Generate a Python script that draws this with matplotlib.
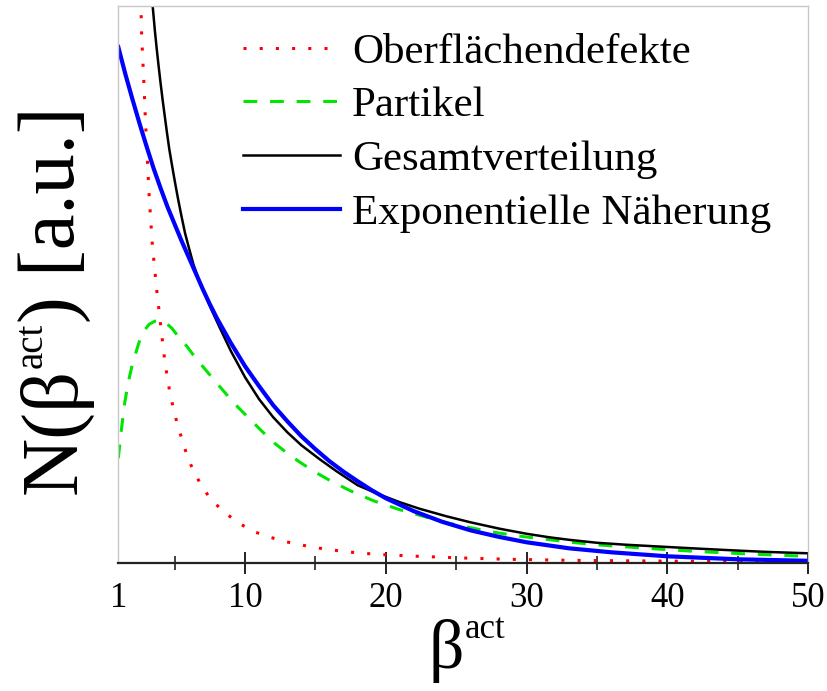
import matplotlib
matplotlib.use("Agg")
import matplotlib.pyplot as plt
from matplotlib.transforms import IdentityTransform

# ---- data (arbitrary units) ----
beta_red = [2.50, 2.61, 2.66, 2.73, 2.78, 2.85, 2.90, 2.95, 3.02, 3.20, 3.42, 3.73, 4.08, 4.32,
            4.69, 5.19, 5.83, 6.28, 6.85, 7.56, 8.57, 9.63, 10.7, 11.72, 12.77, 13.83, 14.9,
            15.9, 17.0, 18.05, 19.1, 20.2, 21.2, 22.3, 25, 28.7, 33, 37, 42, 46, 50]
red_vals = [600, 555, 527, 505, 492, 470, 452, 436, 415, 365, 318, 273, 229, 200,
            168, 139, 110, 94, 79, 64, 50.5, 39.5, 31.3, 26.3, 22, 18.7, 16,
            13.7, 12, 10.3, 9.3, 8.3, 7.7, 7, 5.5, 4, 3, 2.5, 2, 1.6, 1.3]

beta_green = [1.0, 1.12, 1.24, 1.45, 1.71, 1.95, 2.19, 2.5, 2.8, 3.2, 3.6, 4.0, 4.4, 4.8, 5.3,
              5.86, 6.5, 7.28, 8.0, 8.7, 9.5, 10.35, 11.2, 12.1, 13.0, 13.9, 15.0, 16.0, 17.46,
              19.1, 21.0, 22.4, 24.3, 26.2, 27.9, 29.8, 31.4, 33.3, 35.0, 38.5, 42.1, 45.6,
              49.2, 50]
green_vals = [105, 121, 136, 160, 181, 196, 208, 222, 232, 239, 242, 243, 240, 235, 226,
              217, 205, 192, 180, 168.5, 156, 144, 132, 120, 110, 101, 91, 83, 72.6,
              62.6, 53.5, 48, 40.5, 35, 30.5, 26.6, 24, 20.8, 18.5, 15, 11.8, 9.4,
              7.4, 7]

beta_black = [3.30, 3.44, 3.6, 3.73, 3.87, 4.01, 4.14, 4.27, 4.45, 4.62, 4.8, 4.91, 5.1, 5.26,
              5.5, 5.74, 6.0, 6.33, 6.7, 7.04, 7.6, 8.22, 9, 10, 11, 12, 13, 14, 15.3, 16.5,
              18, 19.5, 21, 22.4, 24.3, 26, 28.1, 30, 31.6, 33, 35, 37, 40, 42, 44.7, 47, 50]
black_vals = [582, 557, 532, 514, 496, 479, 464, 450, 431, 414, 399, 390, 375, 363,
              346, 330, 316, 299, 284, 272, 254, 235, 212, 186, 164, 146, 131, 118, 104, 92,
              78, 69, 61, 54.5, 47, 41, 34.5, 29.5, 26, 23.5, 20.5, 18.6, 16.3, 14.8, 12.9,
              11.4, 10]

beta_blue = [1, 1.5, 2, 2.5, 3, 3.5, 4, 4.5, 5, 5.5, 6, 6.5, 7, 7.5, 8, 9, 10, 11, 12, 13,
             14, 15, 16, 17, 18, 19, 20, 22, 24, 26, 28, 30, 33, 36, 40, 45, 50]
blue_vals = [516, 489, 464, 440, 417, 395, 375, 356, 339, 322, 306, 290, 274, 259, 245, 220,
             197, 177, 158, 142, 127, 114, 102, 91.5, 82, 73, 65, 52, 41.5, 33, 26.5, 21,
             15, 11, 7, 4, 2.5]

labels = ["Oberflächendefekte", "Partikel", "Gesamtverteilung", "Exponentielle Näherung"]
xtick_vals = [1, 10, 20, 30, 40, 50]
xtick_labels = ["1", "10", "20", "30", "40", "50"]
xminor_vals = [5, 15, 25, 35, 45]
xlabel_parts = [("β", 50, 0), ("act", 25, 30)]
ylabel_parts = [("N(β", 58, 0), ("act", 28, 33), (") [a.u.]", 58, 0)]

plt.rcParams['font.family'] = ['Liberation Serif', 'DejaVu Serif']

W, H = 827, 691
fig = plt.figure(figsize=(W / 100, H / 100), dpi=100)
ax = fig.add_axes([118.3 / W, 1 - 563.3 / H, 690 / W, 557.3 / H])

ax.plot(beta_red, red_vals, color='#ff0000', lw=2.2, linestyle=(0, (1, 4.3)), label=labels[0])
ax.plot(beta_green, green_vals, color='#00e600', lw=2.2, linestyle=(0, (4.5, 4.2)), label=labels[1])
ax.plot(beta_black, black_vals, color='black', lw=1.8, label=labels[2])
ax.plot(beta_blue, blue_vals, color='#0000ff', lw=3.0, label=labels[3])

ax.set_xlim(1, 50)
ax.set_ylim(0, 557)
ax.set_yticks([])
ax.set_xticks(xtick_vals)
ax.set_xticklabels(xtick_labels)
ax.set_xticks(xminor_vals, minor=True)
ax.tick_params(axis='x', which='major', direction='inout', length=16.5, width=1.4,
               labelsize=25, pad=5, color='#222222')
ax.tick_params(axis='x', which='minor', direction='inout', length=9.5, width=1.2,
               color='#222222')
ax.xaxis.get_major_ticks()[0].tick1line.set_visible(False)

for side in ['left', 'top', 'right']:
    ax.spines[side].set_color('#c8c8c8')
    ax.spines[side].set_linewidth(1.0)
ax.spines['bottom'].set_color('#222222')
ax.spines['bottom'].set_linewidth(1.6)

leg = ax.legend(loc='upper left', bbox_to_anchor=(0.15, 0.991), frameon=False, fontsize=31,
                handlelength=2.25, handletextpad=0.28, labelspacing=0.34, borderaxespad=0.1)

renderer = fig.canvas.get_renderer()


def compose(parts, anchor, center, rotate):
    """Write text pieces one after another (superscripts raised), centred on `center`."""
    texts = []
    pos = 0.0
    for s, fs, rise in parts:
        if rotate:
            t = fig.text(anchor - rise, pos, s, fontsize=fs, rotation=90, rotation_mode='anchor',
                         ha='left', va='baseline', transform=IdentityTransform())
        else:
            t = fig.text(pos, anchor + rise, s, fontsize=fs, ha='left', va='baseline',
                         transform=IdentityTransform())
        bb = t.get_window_extent(renderer)
        texts.append((t, pos))
        pos += bb.height if rotate else bb.width
    shift = center - pos / 2.0
    for (t, p), (s, fs, rise) in zip(texts, parts):
        if rotate:
            t.set_position((anchor - rise, p + shift))
        else:
            t.set_position((p + shift, anchor + rise))


compose(xlabel_parts, 23, 467, False)
compose(ylabel_parts, 75, H - 300, True)

fig.savefig('out.png', dpi=100)
